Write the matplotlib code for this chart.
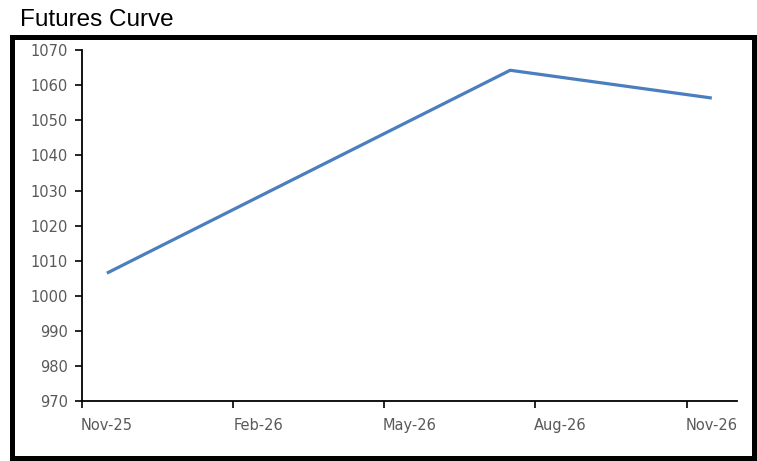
"""Futures curve chart (Excel-style month date axis)."""

import matplotlib

matplotlib.use("Agg")
import matplotlib.pyplot as plt
import pandas as pd
from matplotlib.patches import Rectangle

# contract months and settlement prices
CONTRACT_MONTHS = ["2025-11", "2026-07", "2026-11"]
PRICES = [1006.5, 1064.2, 1056.3]

AXIS_START = "2025-11"
N_MONTHS = 13
X_TICK_LABELS = ["Nov-25", "Feb-26", "May-26", "Aug-26", "Nov-26"]
Y_TICKS = list(range(970, 1071, 10))

LINE_COLOR = "#4A7EBF"
LABEL_COLOR = "#595959"


def month_offset(months, start):
    p0 = pd.Period(start, freq="M")
    return [(pd.Period(m, freq="M") - p0).n for m in months]


def main() -> None:
    fig = plt.figure(figsize=(7.57, 4.61), dpi=100)
    ax = fig.add_axes([0.1079, 0.1291, 0.8657, 0.7627])

    # points sit in the middle of their month slot, like Excel's date axis
    x = [m + 0.5 for m in month_offset(CONTRACT_MONTHS, AXIS_START)]
    ax.plot(x, PRICES, color=LINE_COLOR, lw=2.3, solid_capstyle="butt")

    ax.set_xlim(0, N_MONTHS)
    ax.set_ylim(Y_TICKS[0], Y_TICKS[-1])
    ax.set_yticks(Y_TICKS)

    major = list(range(0, N_MONTHS, 3))
    ax.set_xticks(major)
    ax.set_xticklabels([])
    ax.set_xticks([m + 0.5 for m in major], minor=True)
    ax.set_xticklabels(X_TICK_LABELS, minor=True)
    ax.tick_params(axis="x", which="major", length=5, width=1.2, direction="out")
    ax.tick_params(axis="x", which="minor", length=0, pad=12,
                   labelsize=10.5, labelcolor=LABEL_COLOR)
    ax.tick_params(axis="y", length=5, width=1.2, direction="out", pad=5,
                   labelsize=10.5, labelcolor=LABEL_COLOR)

    for side in ("top", "right"):
        ax.spines[side].set_visible(False)
    for side in ("left", "bottom"):
        ax.spines[side].set_linewidth(1.3)
        ax.spines[side].set_color("black")

    # thick frame around the chart area
    frame = Rectangle((12 / 757, 1 - 457.5 / 461), 741.5 / 757, 420 / 461,
                      transform=fig.transFigure, fill=False, lw=3.6,
                      edgecolor="black")
    fig.add_artist(frame)

    fig.text(20 / 757, 1 - 26 / 461, "Futures Curve", fontsize=17.5,
             family=["Liberation Sans", "DejaVu Sans"], color="black",
             ha="left", va="baseline")

    fig.savefig("out.png", dpi=100)
    plt.close(fig)


if __name__ == "__main__":
    main()
